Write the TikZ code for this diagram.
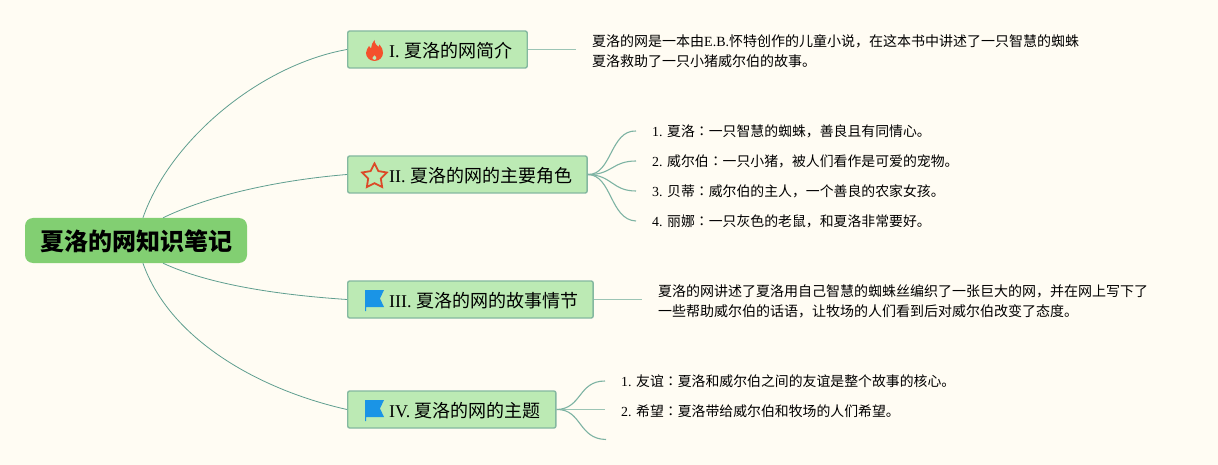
\documentclass[tikz,border=0pt]{standalone}
\usepackage{fontspec}
\setmainfont{Liberation Serif}
\newfontfamily\cjk{Noto Sans CJK SC}
\newfontfamily\cjkjp{Noto Sans CJK JP}
\usetikzlibrary{shapes.geometric}
\newcommand{\lat}[1]{{\rmfamily #1}}
\newcommand{\cln}{{\cjkjp ：}}
\definecolor{paper}{HTML}{FFFCF3}
\definecolor{rootgreen}{HTML}{82CF72}
\definecolor{boxgreen}{HTML}{BCEAB4}
\definecolor{boxline}{HTML}{84B8A0}
\definecolor{mainline}{HTML}{5F9E8F}
\definecolor{subline}{HTML}{9CC5B5}
\definecolor{leafline}{HTML}{7DB3A3}
\definecolor{flame}{HTML}{F4512C}
\definecolor{flagblue}{HTML}{1A94E6}
\tikzset{
	root/.style={fill=rootgreen,rounded corners=8,minimum width=222,minimum height=45,inner sep=0,text depth=0pt,font=\fontsize{24}{28}\selectfont\bfseries\cjk},
	branch/.style={draw=boxline,line width=1.4,fill=boxgreen,rounded corners=2,anchor=west,minimum height=37,inner ysep=0,inner xsep=15,text depth=0pt,font=\fontsize{18}{22}\selectfont\cjk,text=black},
	leaf/.style={anchor=west,inner ysep=0,inner xsep=16,font=\fontsize{13.87}{20}\selectfont\cjk,text=black},
	note/.style={anchor=west,inner ysep=0,inner xsep=16,align=left,font=\fontsize{14}{20}\selectfont\cjk,text=black},
	mainedge/.style={draw=mainline,line width=0.8},
	subedge/.style={draw=subline,line width=1.8},
	leafedge/.style={draw=leafline,line width=1.1},
	flagicon/.pic={
		\fill[flagblue] (0,0) -- (19,0) -- (15,8.5) -- (19,17) -- (1,17) -- (1,21) -- (0,21) -- cycle;
	},
	flameicon/.pic={
		\fill[flame,even odd rule] (0,0) .. controls (-5,0) and (-8.5,-4) .. (-8.5,-8) .. controls (-8.5,-11) and (-6.5,-13) .. (-5.5,-15) .. controls (-4.5,-13.5) and (-4,-13) .. (-3.5,-12.5) .. controls (-3,-16) and (-2,-19) .. (0,-21) .. controls (0,-17) and (2.5,-16) .. (4,-14) .. controls (5,-15) and (5,-16) .. (5,-16.5) .. controls (7.5,-14) and (8.5,-11) .. (8.5,-8) .. controls (8.5,-4) and (5,0) .. (0,0) -- cycle
			(0,-1) .. controls (-1.5,-1) and (-2.5,-2.5) .. (-2,-3.5) .. controls (-1.5,-4.5) and (-0.5,-5) .. (0,-6) .. controls (0.5,-5) and (2,-4.5) .. (2,-3.2) .. controls (2,-2) and (1.2,-1) .. (0,-1) -- cycle;
	}
}
\begin{document}
\begin{tikzpicture}[x=1pt,y=-1pt]
	\fill[paper] (0,0) rectangle (1218,465);
	\useasboundingbox (0,0) rectangle (1218,465);

	\node[root] (root) at (136,240.5) {夏洛的网知识笔记};

	\node[branch] (intro) at (347,49.5) {\hspace*{26.5pt}\lat{I. }夏洛的网简介};
	\node[branch] (roles) at (347,174.5) {\hspace*{26.5pt}\lat{II. }夏洛的网的主要角色};
	\node[branch] (plot) at (347,299.5) {\hspace*{26.5pt}\lat{III. }夏洛的网的故事情节};
	\node[branch] (theme) at (347,409.5) {\hspace*{26.5pt}\lat{IV. }夏洛的网的主题};

	\pic at (374.5,61) {flameicon};
	\node[star,star points=5,star point ratio=1.95,draw=flame!90!black,line width=1.8,minimum size=26,inner sep=0] (staricon) at (374.5,176.5) {};
	\pic at (365,290) {flagicon};
	\pic at (365,400) {flagicon};

	\node[note] (introtext) at (576,51) {夏洛的网是一本由\lat{E.B.}怀特创作的儿童小说，在这本书中讲述了一只智慧的蜘蛛\\夏洛救助了一只小猪威尔伯的故事。};
	\node[note] (plottext) at (642,301) {夏洛的网讲述了夏洛用自己智慧的蜘蛛丝编织了一张巨大的网，并在网上写下了\\一些帮助威尔伯的话语，让牧场的人们看到后对威尔伯改变了态度。};

	\node[leaf] (role1) at (636,131) {\lat{1. }夏洛\cln 一只智慧的蜘蛛，善良且有同情心。};
	\node[leaf] (role2) at (636,161) {\lat{2. }威尔伯\cln 一只小猪，被人们看作是可爱的宠物。};
	\node[leaf] (role3) at (636,191) {\lat{3. }贝蒂\cln 威尔伯的主人，一个善良的农家女孩。};
	\node[leaf] (role4) at (636,221) {\lat{4. }丽娜\cln 一只灰色的老鼠，和夏洛非常要好。};

	\node[leaf] (theme1) at (605,381) {\lat{1. }友谊\cln 夏洛和威尔伯之间的友谊是整个故事的核心。};
	\node[leaf] (theme2) at (605,411) {\lat{2. }希望\cln 夏洛带给威尔伯和牧场的人们希望。};
	\coordinate (theme3) at (606,439.5);

	\draw[mainedge] (root.73) .. controls (170,140) and (260,65) .. (intro.west);
	\draw[mainedge] (root.40) .. controls (210,195) and (280,180) .. (roles.west);
	\draw[mainedge] (root.-40) .. controls (210,285) and (280,295) .. (plot.west);
	\draw[mainedge] (root.-73) .. controls (170,340) and (260,390) .. (theme.west);

	\draw[subedge] (intro.east) -- (intro.east -| introtext.west);
	\draw[subedge] (plot.east) -- (plot.east -| plottext.west);

	\draw[leafedge] (roles.east) .. controls (612,175) and (610,130) .. (role1.west);
	\draw[leafedge] (roles.east) .. controls (612,175) and (612,161) .. (role2.west);
	\draw[leafedge] (roles.east) .. controls (612,175) and (612,191) .. (role3.west);
	\draw[leafedge] (roles.east) .. controls (612,175) and (610,220) .. (role4.west);
	\draw[leafedge] (theme.east) .. controls (582,409) and (578,381) .. (theme1.west);
	\draw[subedge] (theme.east) -- (theme.east -| theme2.west);
	\draw[leafedge] (theme.east) .. controls (582,409) and (578,439) .. (theme3);
\end{tikzpicture}
\end{document}
